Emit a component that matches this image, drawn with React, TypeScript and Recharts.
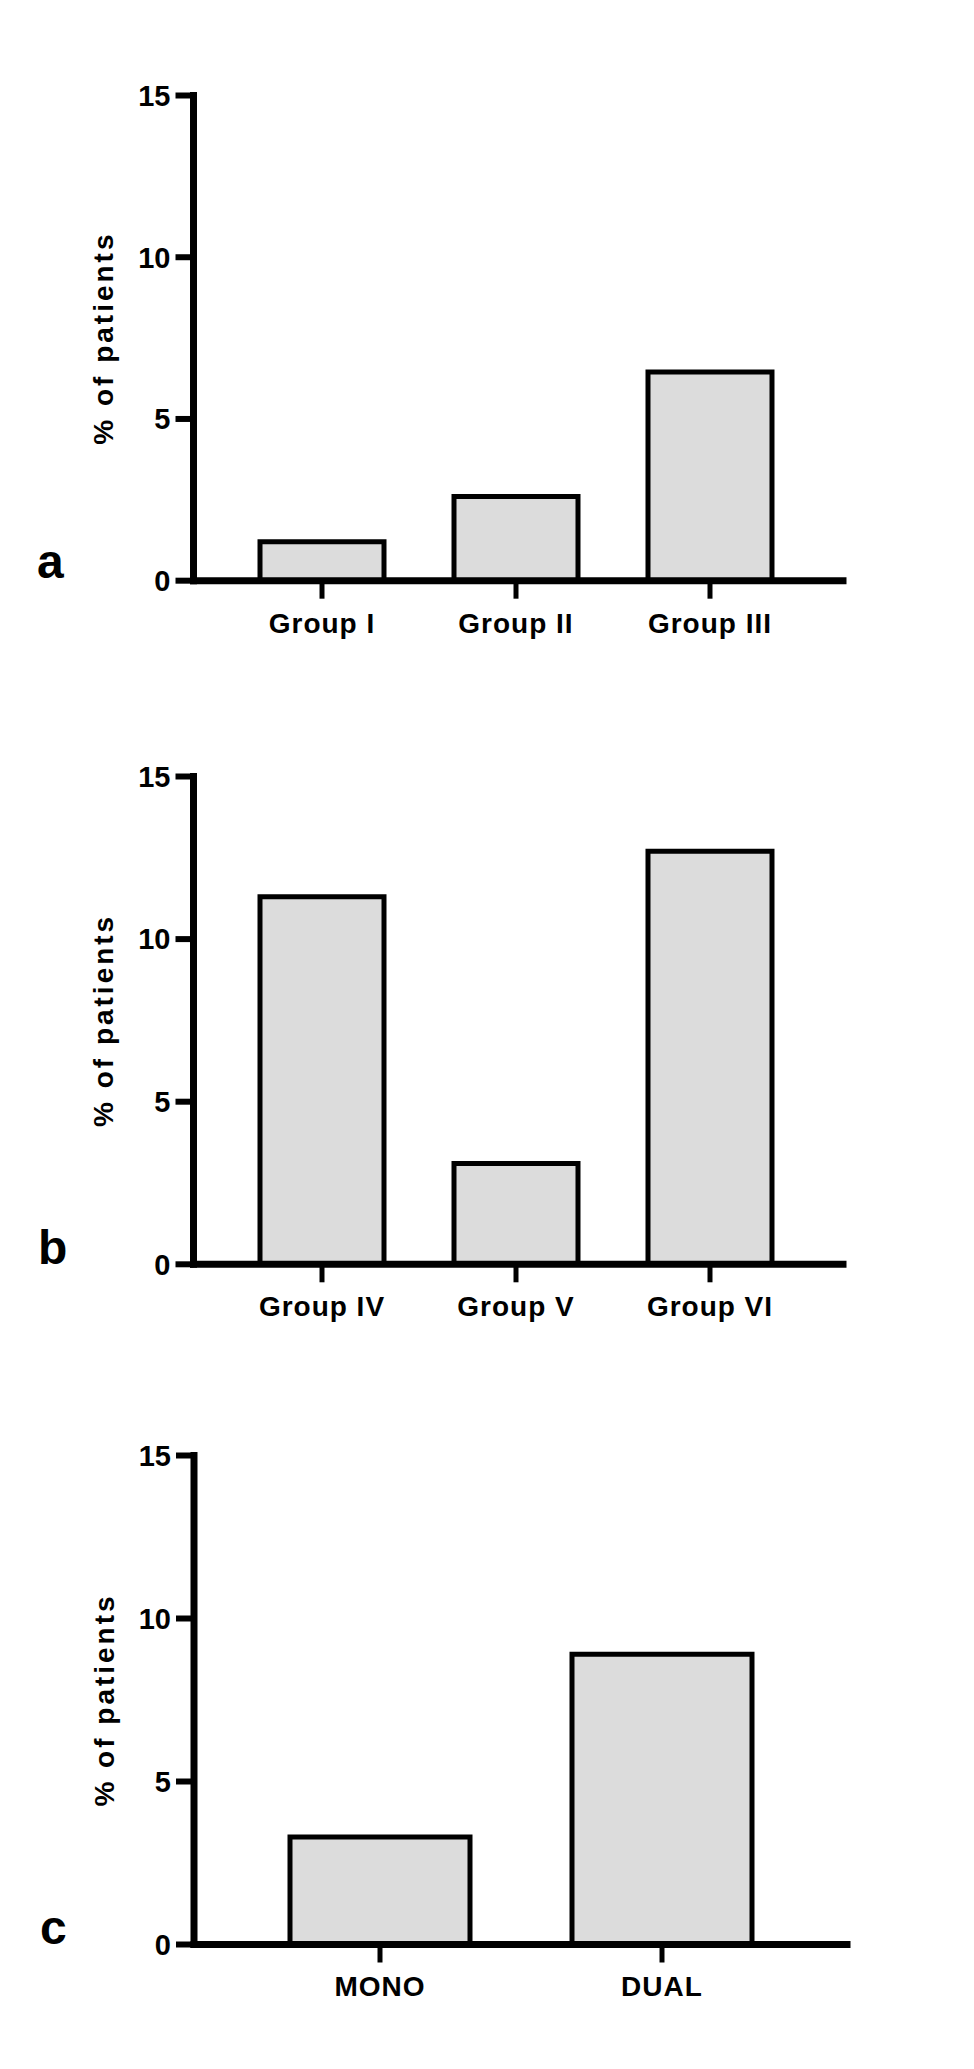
import React from 'react';
import { BarChart, Bar, XAxis, YAxis } from 'recharts';

const groupsA = ['Group I', 'Group II', 'Group III'];
const valuesA = [1.2, 2.6, 6.45];
const groupsB = ['Group IV', 'Group V', 'Group VI'];
const valuesB = [11.3, 3.1, 12.7];
const groupsC = ['MONO', 'DUAL'];
const valuesC = [3.3, 8.9];
const yTicks = [0, 5, 10, 15];
const yTitle = '% of patients';
const panelLetters = ['a', 'b', 'c'];

const FONT = '"Liberation Sans", Arial, Helvetica, sans-serif';

type PanelProps = {
  categories: string[];
  values: number[];
  top: number;
  marginTop: number;
  plotHeight: number;
  plotLeft: number;
  plotRight: number;
  padL: number;
  padR: number;
  barSize: number;
};

const XTick = (props: any) => {
  const { x, y, payload } = props;
  return (
    <text
      x={x}
      y={y}
      dy="0.71em"
      textAnchor="middle"
      fill="#000"
      fontFamily={FONT}
      fontWeight="bold"
      fontSize={28}
      style={{ letterSpacing: '1px' }}
    >
      {payload.value}
    </text>
  );
};

const YTick = (props: any) => {
  const { x, y, payload } = props;
  return (
    <text
      x={x}
      y={y}
      dy="0.355em"
      textAnchor="end"
      fill="#000"
      fontFamily={FONT}
      fontWeight="bold"
      fontSize={29}
    >
      {payload.value}
    </text>
  );
};

function Panel(p: PanelProps) {
  const data = p.categories.map((name, i) => ({ name, value: p.values[i] }));
  const xAxisH = 90;
  const height = p.marginTop + p.plotHeight + xAxisH;
  const cy = p.marginTop + p.plotHeight / 2;
  const tx = 104;
  return (
    <div style={{ position: 'absolute', left: 0, top: p.top, width: 974, height }}>
      <BarChart
        width={974}
        height={height}
        data={data}
        margin={{ top: p.marginTop, right: 974 - p.plotRight, bottom: 0, left: 0 }}
        barCategoryGap={0}
      >
        <Bar
          dataKey="value"
          fill="#dcdcdc"
          stroke="#000"
          strokeWidth={5}
          barSize={p.barSize}
          isAnimationActive={false}
        />
        <XAxis
          dataKey="name"
          type="category"
          height={xAxisH}
          interval={0}
          padding={{ left: p.padL, right: p.padR }}
          tickSize={18}
          tickMargin={14}
          axisLine={{ stroke: '#000', strokeWidth: 7, strokeLinecap: 'square' }}
          tickLine={{ stroke: '#000', strokeWidth: 5 }}
          tick={<XTick />}
        />
        <YAxis
          type="number"
          domain={[0, 15]}
          ticks={yTicks}
          interval={0}
          width={p.plotLeft}
          tickSize={18}
          tickMargin={5}
          axisLine={{ stroke: '#000', strokeWidth: 7, strokeLinecap: 'square' }}
          tickLine={{ stroke: '#000', strokeWidth: 6 }}
          tick={<YTick />}
          label={{
            content: () => (
              <text
                x={tx}
                y={cy}
                transform={`rotate(-90, ${tx}, ${cy})`}
                textAnchor="middle"
                dominantBaseline="central"
                fill="#000"
                fontFamily={FONT}
                fontWeight="bold"
                fontSize={28}
                style={{ letterSpacing: '3px' }}
              >
                {yTitle}
              </text>
            ),
          }}
        />
      </BarChart>
    </div>
  );
}

export default function App() {
  return (
    <div
      style={{
        position: 'absolute',
        left: 0,
        top: 0,
        width: 974,
        height: 2069,
        background: '#fff',
        overflow: 'hidden',
      }}
    >
      <Panel
        categories={groupsA}
        values={valuesA}
        top={0}
        marginTop={95.5}
        plotHeight={485.2}
        plotLeft={193.5}
        plotRight={843}
        padL={31.5}
        padR={36}
        barSize={124}
      />
      <Panel
        categories={groupsB}
        values={valuesB}
        top={680}
        marginTop={96.5}
        plotHeight={487.8}
        plotLeft={193.5}
        plotRight={843}
        padL={31.5}
        padR={36}
        barSize={124}
      />
      <Panel
        categories={groupsC}
        values={valuesC}
        top={1360}
        marginTop={95.5}
        plotHeight={489}
        plotLeft={194}
        plotRight={847}
        padL={45}
        padR={44}
        barSize={180}
      />
      <svg
        width={974}
        height={2069}
        style={{ position: 'absolute', left: 0, top: 0, pointerEvents: 'none' }}
      >
        <text x={37} y={578} fontFamily={FONT} fontWeight="bold" fontSize={48} fill="#000">
          {panelLetters[0]}
        </text>
        <text x={38} y={1264} fontFamily={FONT} fontWeight="bold" fontSize={48} fill="#000">
          {panelLetters[1]}
        </text>
        <text x={40} y={1944} fontFamily={FONT} fontWeight="bold" fontSize={48} fill="#000">
          {panelLetters[2]}
        </text>
      </svg>
    </div>
  );
}
